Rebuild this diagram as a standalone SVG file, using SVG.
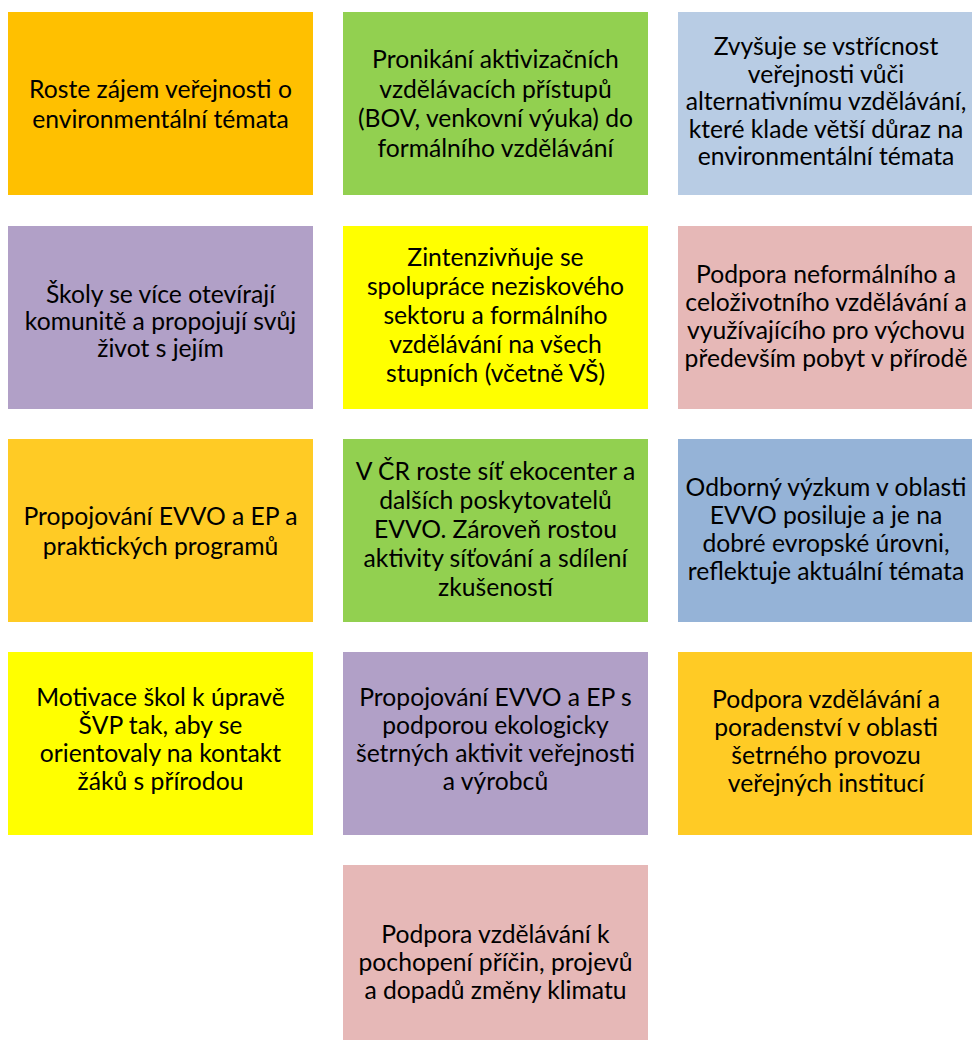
<svg xmlns="http://www.w3.org/2000/svg" width="972" height="1040" viewBox="0 0 972 1040">
<style>
text{font-family:Lato,"Liberation Sans",sans-serif;fill:#000;text-anchor:middle;font-size:24.7px}
.orange{fill:#FFC000}.green{fill:#92D050}.lblue{fill:#B8CCE4}.purple{fill:#B1A0C7}
.yellow{fill:#FFFF00}.pink{fill:#E6B8B7}.gold{fill:#FFCB25}.blue{fill:#95B3D7}
</style>
<rect width="972" height="1040" fill="#fff"/>
<g id="connectors"/>
<g id="n1"><rect class="orange" x="8" y="12" width="305" height="183"/>
<text x="160.5"><tspan x="160.5" y="98">Roste zájem veřejnosti o</tspan><tspan x="160.5" y="128">environmentální témata</tspan></text></g>
<g id="n2"><rect class="green" x="343" y="12" width="305" height="183"/>
<text x="495.5"><tspan x="495.5" y="68">Pronikání aktivizačních</tspan><tspan x="495.5" y="97.5">vzdělávacích přístupů</tspan><tspan x="495.5" y="127">(BOV, venkovní výuka) do</tspan><tspan x="495.5" y="156.5">formálního vzdělávání</tspan></text></g>
<g id="n3"><rect class="lblue" x="678" y="12" width="305" height="183"/>
<text x="826"><tspan x="826" y="55">Zvyšuje se vstřícnost</tspan><tspan x="826" y="82.5">veřejnosti vůči</tspan><tspan x="826" y="110">alternativnímu vzdělávání,</tspan><tspan x="826" y="137.5">které klade větší důraz na</tspan><tspan x="826" y="165">environmentální témata</tspan></text></g>
<g id="n4"><rect class="purple" x="8" y="226" width="305" height="183"/>
<text x="160.5"><tspan x="160.5" y="303">Školy se více otevírají</tspan><tspan x="160.5" y="330">komunitě a propojují svůj</tspan><tspan x="160.5" y="357">život s jejím</tspan></text></g>
<g id="n5"><rect class="yellow" x="343" y="226" width="305" height="183"/>
<text x="495.5"><tspan x="495.5" y="266">Zintenzivňuje se</tspan><tspan x="495.5" y="295">spolupráce neziskového</tspan><tspan x="495.5" y="324">sektoru a formálního</tspan><tspan x="495.5" y="353">vzdělávání na všech</tspan><tspan x="495.5" y="382">stupních (včetně VŠ)</tspan></text></g>
<g id="n6"><rect class="pink" x="678" y="226" width="305" height="183"/>
<text x="826"><tspan x="826" y="283">Podpora neformálního a</tspan><tspan x="826" y="311">celoživotního vzdělávání a</tspan><tspan x="826" y="339">využívajícího pro výchovu</tspan><tspan x="826" y="367">především pobyt v přírodě</tspan></text></g>
<g id="n7"><rect class="gold" x="8" y="439" width="305" height="183"/>
<text x="160.5"><tspan x="160.5" y="525">Propojování EVVO a EP a</tspan><tspan x="160.5" y="555">praktických programů</tspan></text></g>
<g id="n8"><rect class="green" x="343" y="439" width="305" height="183"/>
<text x="495.5"><tspan x="495.5" y="480">V ČR roste síť ekocenter a</tspan><tspan x="495.5" y="509">dalších poskytovatelů</tspan><tspan x="495.5" y="538">EVVO. Zároveň rostou</tspan><tspan x="495.5" y="567">aktivity síťování a sdílení</tspan><tspan x="495.5" y="596">zkušeností</tspan></text></g>
<g id="n9"><rect class="blue" x="678" y="439" width="305" height="183"/>
<text x="826"><tspan x="826" y="496">Odborný výzkum v oblasti</tspan><tspan x="826" y="524">EVVO posiluje a je na</tspan><tspan x="826" y="552">dobré evropské úrovni,</tspan><tspan x="826" y="580">reflektuje aktuální témata</tspan></text></g>
<g id="n10"><rect class="yellow" x="8" y="652" width="305" height="183"/>
<text x="160.5"><tspan x="160.5" y="706">Motivace škol k úpravě</tspan><tspan x="160.5" y="734">ŠVP tak, aby se</tspan><tspan x="160.5" y="762">orientovaly na kontakt</tspan><tspan x="160.5" y="790">žáků s přírodou</tspan></text></g>
<g id="n11"><rect class="purple" x="343" y="652" width="305" height="183"/>
<text x="495.5"><tspan x="495.5" y="706">Propojování EVVO a EP s</tspan><tspan x="495.5" y="734">podporou ekologicky</tspan><tspan x="495.5" y="762">šetrných aktivit veřejnosti</tspan><tspan x="495.5" y="790">a výrobců</tspan></text></g>
<g id="n12"><rect class="gold" x="678" y="652" width="305" height="183"/>
<text x="826"><tspan x="826" y="708">Podpora vzdělávání a</tspan><tspan x="826" y="736">poradenství v oblasti</tspan><tspan x="826" y="764">šetrného provozu</tspan><tspan x="826" y="792">veřejných institucí</tspan></text></g>
<g id="n13"><rect class="pink" x="343" y="865" width="305" height="183"/>
<text x="495.5"><tspan x="495.5" y="943">Podpora vzdělávání k</tspan><tspan x="495.5" y="971">pochopení příčin, projevů</tspan><tspan x="495.5" y="999">a dopadů změny klimatu</tspan></text></g>
</svg>
